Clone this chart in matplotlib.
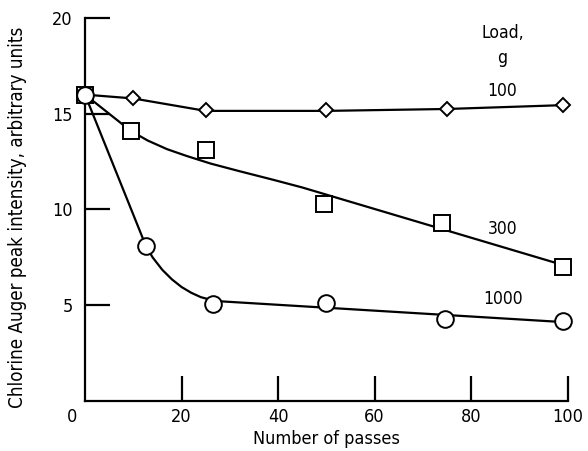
import numpy as np
import matplotlib.pyplot as plt

plt.rcParams['font.family'] = ['DejaVu Sans']
plt.rcParams['font.stretch'] = 'condensed'

# measured points (number of passes, intensity)
x_100 = [0, 10, 25, 50, 75, 99]
y_100 = [16.0, 15.8, 15.2, 15.2, 15.25, 15.45]

x_300 = [0, 9.5, 25, 49.5, 74, 99]
y_300 = [16.0, 14.1, 13.1, 10.3, 9.3, 7.0]

x_1000 = [0, 12.6, 26.6, 50, 74.5, 99]
y_1000 = [16.0, 8.1, 5.05, 5.1, 4.27, 4.2]

# hand-drawn fit curves
cx_100 = [0, 10, 25, 50, 75, 99]
cy_100 = [16.0, 15.8, 15.15, 15.15, 15.25, 15.45]

cx_300 = [0, 3, 6, 9.5, 13, 17, 21, 26, 32, 39, 45, 99]
cy_300 = [16.0, 15.4, 14.8, 14.1, 13.6, 13.15, 12.8, 12.4, 12.0, 11.55, 11.15, 7.1]

cx_1000 = [0, 12.6, 14, 16, 18, 20, 22, 24, 27, 99]
cy_1000 = [16.0, 8.1, 7.5, 6.85, 6.35, 5.95, 5.65, 5.42, 5.22, 4.12]

fig = plt.figure(figsize=(5.88, 4.51), dpi=100)
ax = fig.add_axes([0.1446, 0.111, 0.821, 0.849])

lw = 1.6
ax.plot(cx_100, cy_100, color='black', lw=lw, clip_on=False)
ax.plot(cx_300, cy_300, color='black', lw=lw, clip_on=False)
ax.plot(cx_1000, cy_1000, color='black', lw=lw, clip_on=False)

ax.plot(x_100, y_100, 'D', ms=7.5, mfc='white', mec='black', mew=1.4, ls='none', clip_on=False, zorder=3)
ax.plot(x_300, y_300, 's', ms=11, mfc='white', mec='black', mew=1.4, ls='none', clip_on=False, zorder=3)
ax.plot(x_1000, y_1000, 'o', ms=12, mfc='white', mec='black', mew=1.4, ls='none', clip_on=False, zorder=4)

ax.set_xlim(0, 100)
ax.set_ylim(0, 20)
ax.spines['top'].set_visible(False)
ax.spines['right'].set_visible(False)
ax.spines['left'].set_linewidth(1.6)
ax.spines['bottom'].set_linewidth(1.6)

ax.set_xticks([20, 40, 60, 80, 100])
ax.set_yticks([5, 10, 15, 20])
ax.tick_params(direction='in', length=18, width=1.6, labelsize=13)
ax.tick_params(axis='x', pad=5)
ax.tick_params(axis='y', pad=9)
ax.text(-2.6, -0.85, '0', ha='center', va='center', fontsize=13)

ax.set_xlabel('Number of passes', fontsize=13)
ax.xaxis.set_label_coords(0.5, -0.075)
ax.set_ylabel('Chlorine Auger peak intensity, arbitrary units', fontsize=13.5)
ax.yaxis.set_label_coords(-0.12, 0.48)

ax.text(86.5, 19.2, 'Load,', ha='center', va='center', fontsize=12.5)
ax.text(86.5, 17.9, 'g', ha='center', va='center', fontsize=12.5)
ax.text(86.5, 16.2, '100', ha='center', va='center', fontsize=12.5)
ax.text(86.5, 9.0, '300', ha='center', va='center', fontsize=12.5)
ax.text(86.5, 5.3, '1000', ha='center', va='center', fontsize=12.5)

fig.savefig('out.png', dpi=100)
